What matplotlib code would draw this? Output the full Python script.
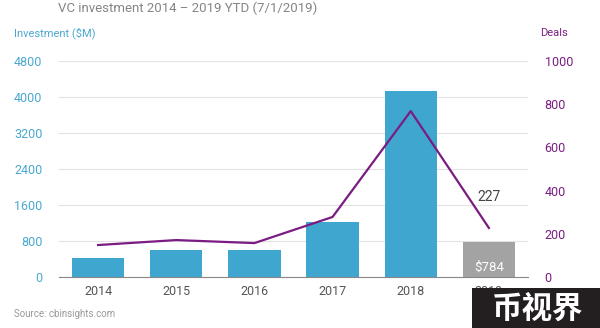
import matplotlib.pyplot as plt
import numpy as np

plt.rcParams['font.family'] = ['Roboto', 'DejaVu Sans']

years = ['2014', '2015', '2016', '2017', '2018', '2019']
investment = [420, 600, 590, 1220, 4130, 784]
deals = [148, 171, 157, 278, 768, 227]

blue = '#3ea6cf'
grey = '#a3a3a3'
purple = '#7b1c82'

fig = plt.figure(figsize=(6, 3.28), dpi=100)
ax = fig.add_axes([59 / 600, 51 / 328, 469 / 600, 216 / 328])

x = np.arange(len(years))
colors = [blue] * 5 + [grey]
ax.bar(x, investment, width=0.67, color=colors, zorder=2)
ax.set_xlim(-0.5, 5.5)
ax.set_ylim(0, 4800)
ax.set_yticks(np.arange(0, 4801, 800))
ax.set_xticks(x)
ax.set_xticklabels(years, color='#555555', fontsize=9)
ax.tick_params(axis='y', colors='#4aa8d0', labelsize=9, length=0, pad=12)
ax.tick_params(axis='x', length=0, pad=6)
ax.grid(axis='y', color='#e2e2e2', linewidth=0.8, zorder=0)
for s in ['top', 'right', 'left']:
    ax.spines[s].set_visible(False)
ax.spines['bottom'].set_color('#888888')

ax2 = ax.twinx()
ax2.plot(x, deals, color=purple, linewidth=1.6, zorder=3)
ax2.set_ylim(0, 1000)
ax2.set_yticks(np.arange(0, 1001, 200))
ax2.tick_params(axis='y', colors=purple, labelsize=9, length=0, pad=12)
for s in ax2.spines.values():
    s.set_visible(False)

# value labels for the 2019 YTD point
ax.text(5, 70, '$784', color='white', ha='center', va='bottom', fontsize=9.5, zorder=4)
ax2.text(5, 370, str(deals[-1]), color='#444444', ha='center', va='center', fontsize=10)

fig.text(188 / 600, 1 - 8 / 328, 'VC investment 2014 \u2013 2019 YTD (7/1/2019)',
         ha='center', va='center', color='#858585', fontsize=9.5)
fig.text(14 / 600, 1 - 33 / 328, 'Investment ($M)', color='#4aa8d0', fontsize=8, va='center')
fig.text(540 / 600, 1 - 33 / 328, 'Deals', color=purple, fontsize=8, va='center')
fig.text(14 / 600, 1 - 314 / 328, 'Source: cbinsights.com', color='#999999', fontsize=7, va='center')

# watermark box (covers the 2019 tick label, as in the reference)
fig.patches.append(plt.Rectangle((472 / 600, 0), 128 / 600, 40 / 328, transform=fig.transFigure,
                                 facecolor='#231f20', zorder=10))
fig.text(538 / 600, 19 / 328, '币视界', color='white', fontsize=22, fontweight='heavy',
         ha='center', va='center', zorder=11, family=['Noto Sans CJK SC', 'DejaVu Sans'])

fig.savefig('out.png', dpi=100, facecolor='white')
